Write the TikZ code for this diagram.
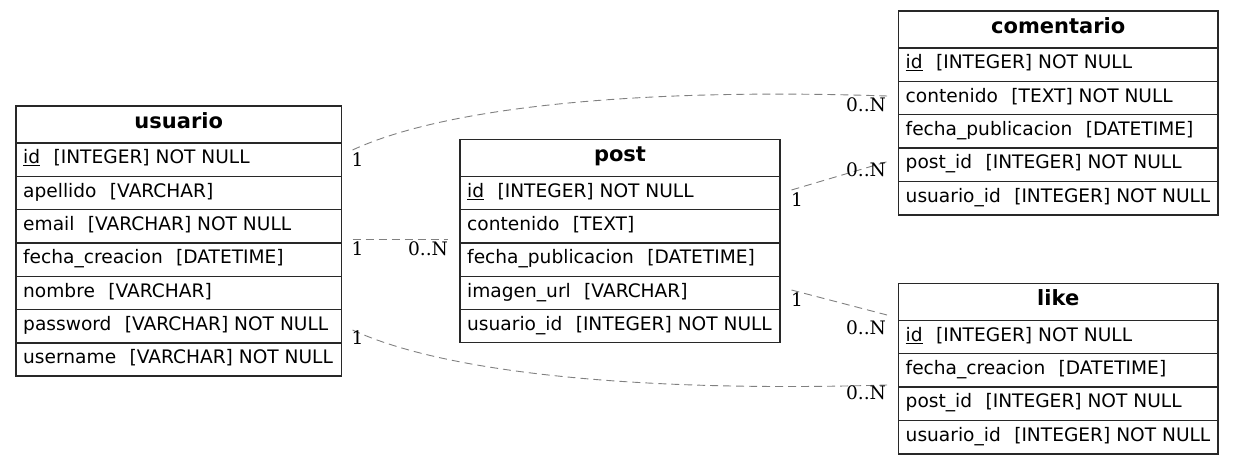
\documentclass[tikz,border=0pt]{standalone}
\usepackage{fontspec}
\setmainfont{DejaVu Sans}
\newfontfamily\cardfont{DejaVu Serif}
\usetikzlibrary{calc}

\definecolor{linkgray}{RGB}{128,128,128}
\definecolor{framecol}{RGB}{40,40,40}

% gap between a column name and its type
\newcommand\fieldgap{\hspace{0.72em}}
% primary key column
\newcommand\pk[1]{\underline{#1}}

\tikzset{
  tablebox/.style={draw=framecol, line width=1.1pt, inner sep=0pt, outer sep=0pt, anchor=north west},
  rowrule/.style={draw=framecol, line width=1.1pt},
  fieldtext/.style={anchor=base west, inner sep=0pt, font=\fontsize{18.6}{22}\selectfont},
  headtext/.style={anchor=base, inner sep=0pt, font=\fontsize{21}{25}\selectfont\bfseries},
  link/.style={draw=linkgray, line width=0.9pt, dash pattern=on 8pt off 5pt},
  card/.style={inner sep=0pt, font=\fontsize{18.6}{22}\selectfont\cardfont},
}

% #1 name, #2 left, #3 top, #4 width, #5 height, #6 title, #7 columns
\newcommand\ertable[7]{%
  \node[tablebox, minimum width=#4pt, minimum height=#5pt] (#1) at (#2,#3) {};
  \node[headtext] (#1-title) at ([yshift=-22.5pt]#1.north) {#6};
  \foreach \f [count=\i] in {#7} {
    \draw[rowrule] ([yshift={-(37+(\i-1)*33.333)*1pt}]#1.north west)
                -- ([yshift={-(37+(\i-1)*33.333)*1pt}]#1.north east);
    \node[fieldtext] (#1-f\i) at ([xshift=7pt,yshift={-(37+(\i-1)*33.333+20.8)*1pt}]#1.north west) {\f};
  }
}

\begin{document}
\begin{tikzpicture}[x=1pt, y=-1pt]
\useasboundingbox (0,0) rectangle (1235,465);

\ertable{usuario}{16}{106}{325.5}{270}{usuario}{%
  \pk{id}\fieldgap[INTEGER] NOT NULL,
  apellido\fieldgap[VARCHAR],
  email\fieldgap[VARCHAR] NOT NULL,
  fecha\_creacion\fieldgap[DATETIME],
  nombre\fieldgap[VARCHAR],
  password\fieldgap[VARCHAR] NOT NULL,
  username\fieldgap[VARCHAR] NOT NULL}

\ertable{post}{460}{139.3}{320}{203.5}{post}{%
  \pk{id}\fieldgap[INTEGER] NOT NULL,
  contenido\fieldgap[TEXT],
  fecha\_publicacion\fieldgap[DATETIME],
  imagen\_url\fieldgap[VARCHAR],
  usuario\_id\fieldgap[INTEGER] NOT NULL}

\ertable{comentario}{898.5}{11}{319.5}{204}{comentario}{%
  \pk{id}\fieldgap[INTEGER] NOT NULL,
  contenido\fieldgap[TEXT] NOT NULL,
  fecha\_publicacion\fieldgap[DATETIME],
  post\_id\fieldgap[INTEGER] NOT NULL,
  usuario\_id\fieldgap[INTEGER] NOT NULL}

\ertable{like}{898.5}{283.3}{319.5}{170.7}{like}{%
  \pk{id}\fieldgap[INTEGER] NOT NULL,
  fecha\_creacion\fieldgap[DATETIME],
  post\_id\fieldgap[INTEGER] NOT NULL,
  usuario\_id\fieldgap[INTEGER] NOT NULL}

% relationship end points
\coordinate (uc-t) at ($(usuario.north east)+(11,44)$);
\coordinate (uc-h) at ($(comentario.north west)+(-11.5,85)$);
\coordinate (up-t) at ($(usuario.north east)+(11,133.3)$);
\coordinate (up-h) at ($(post.north west)+(-12,100)$);
\coordinate (pc-t) at ($(post.north east)+(11.5,50.7)$);
\coordinate (pc-h) at ($(comentario.north west)+(-11.5,150.7)$);
\coordinate (pl-t) at ($(post.north east)+(11.5,150.7)$);
\coordinate (pl-h) at ($(like.north west)+(-11.5,31.7)$);
\coordinate (ul-t) at ($(usuario.north east)+(11,224)$);
\coordinate (ul-h) at ($(like.north west)+(-11.5,101.7)$);

% relationships
\draw[link] (uc-t) .. controls +(97.5,-45) and +(-237,-8) .. (uc-h);
\draw[link] (up-t) -- (up-h);
\draw[link] (pc-t) -- (pc-h);
\draw[link] (pl-t) -- (pl-h);
\draw[link] (ul-t) .. controls +(97.5,45) and +(-237,7) .. (ul-h);

% cardinalities
\node[card] (uc-one)  at ($(uc-t)+(5,10)$)     {1};
\node[card] (uc-many) at ($(uc-h)+(-21,9)$)    {0..N};
\node[card] (up-one)  at ($(up-t)+(5,9.2)$)    {1};
\node[card] (up-many) at ($(up-h)+(-20,9.2)$)  {0..N};
\node[card] (pc-one)  at ($(pc-t)+(5.5,10)$)   {1};
\node[card] (pc-many) at ($(pc-h)+(-21,8.3)$)  {0..N};
\node[card] (pl-one)  at ($(pl-t)+(5.5,9.5)$)  {1};
\node[card] (pl-many) at ($(pl-h)+(-21,13)$)   {0..N};
\node[card] (ul-one)  at ($(ul-t)+(5,7.5)$)    {1};
\node[card] (ul-many) at ($(ul-h)+(-21,8)$)    {0..N};
\end{tikzpicture}
\end{document}
